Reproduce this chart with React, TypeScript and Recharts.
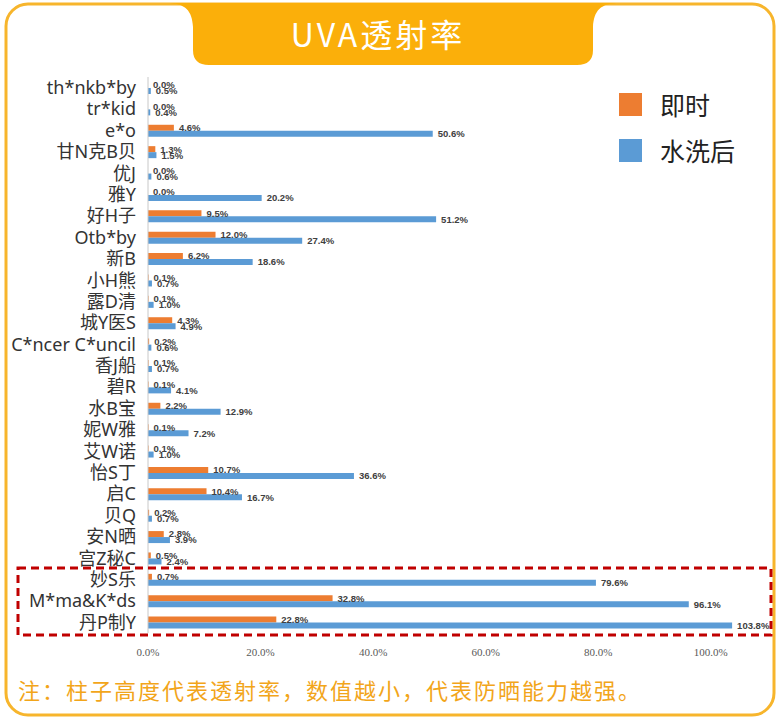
import { BarChart, Bar, XAxis, YAxis, Legend, LabelList } from 'recharts';

const brands = [
  'th*nkb*by', 'tr*kid', 'e*o', '甘N克B贝', '优J', '雅Y', '好H子', 'Otb*by', '新B', '小H熊',
  '露D清', '城Y医S', 'C*ncer C*uncil', '香J船', '碧R', '水B宝', '妮W雅', '艾W诺', '怡S丁', '启C',
  '贝Q', '安N晒', '宫Z秘C', '妙S乐', 'M*ma&K*ds', '丹P制Y',
];
const instant = [0.0, 0.0, 4.6, 1.3, 0.0, 0.0, 9.5, 12.0, 6.2, 0.1, 0.1, 4.3, 0.2, 0.1, 0.1, 2.2, 0.1, 0.1, 10.7, 10.4, 0.2, 2.8, 0.5, 0.7, 32.8, 22.8];
const washed = [0.5, 0.4, 50.6, 1.5, 0.6, 20.2, 51.2, 27.4, 18.6, 0.7, 1.0, 4.9, 0.6, 0.7, 4.1, 12.9, 7.2, 1.0, 36.6, 16.7, 0.7, 3.9, 2.4, 79.6, 96.1, 103.8];
const xTicks = [0, 20, 40, 60, 80, 100];

const ORANGE = '#ED7D31';
const BLUE = '#5B9BD5';
const GOLD = '#F7B52C';
const SANS = "'Noto Sans', 'Noto Sans CJK SC', sans-serif";

const fmt = (v: any) => `${Number(v).toFixed(1)}%`;
// zero values still need a (invisible) rect so their "0.0%" label is drawn
const zeroSize = (v: any) => (Number(v) === 0 ? 0.01 : 0);

const labelStyle = { fontSize: 9.5, fontWeight: 'bold', fill: '#404040', fontFamily: "'Liberation Sans', sans-serif" };

function LegendBox() {
  const items = [
    { name: '即时', color: ORANGE },
    { name: '水洗后', color: BLUE },
  ];
  return (
    <div>
      {items.map(it => (
        <div key={it.name} style={{ display: 'flex', alignItems: 'center', height: 24, marginBottom: 22 }}>
          <span style={{ width: 23, height: 23, background: it.color, display: 'inline-block', marginRight: 18 }} />
          <span style={{ fontSize: 25, color: '#222', fontFamily: "'Noto Sans CJK SC', sans-serif" }}>{it.name}</span>
        </div>
      ))}
    </div>
  );
}

export default function App() {
  const data = brands.map((name, i) => ({ name, instant: instant[i], washed: washed[i] }));

  return (
    <div style={{ position: 'absolute', left: 0, top: 0, width: 780, height: 723, background: '#fff', fontFamily: SANS }}>
      <svg width={780} height={723} style={{ position: 'absolute', left: 0, top: 0 }}>
        <rect x={6} y={4} width={768} height={711} rx={22} fill="#fff" stroke={GOLD} strokeWidth={3} />
        <path
          d="M166 3 C186 3 192 11 193 27 L193 50 Q193 65 209 65 L577 65 Q593 65 593 50 L593 27 C594 11 600 3 620 3 Z"
          fill="#FBAF0A"
        />
        <text x={378} y={47} textAnchor="middle" fill="#fff" fontSize={32} letterSpacing={3}
          fontFamily="'Noto Sans CJK SC', sans-serif">
          UVA透射率
        </text>
      </svg>

      <div style={{ position: 'absolute', left: 0, top: 0 }}>
        <BarChart
          width={780}
          height={723}
          data={data}
          layout="vertical"
          margin={{ top: 77, right: 13, bottom: 60, left: 0 }}
          barSize={6}
          barGap={0}
        >
          <XAxis
            type="number"
            domain={[0, 110]}
            ticks={xTicks}
            tickFormatter={fmt}
            axisLine={false}
            tickLine={false}
            tickMargin={9}
            height={30}
            tick={{ fontSize: 11, fill: '#595959', fontFamily: "'Liberation Serif', serif" }}
          />
          <YAxis
            type="category"
            dataKey="name"
            width={148}
            interval={0}
            axisLine={{ stroke: '#c8c8c8' }}
            tickLine={false}
            tickMargin={6}
            tick={{ fontSize: 18, fill: '#333', fontFamily: SANS }}
          />
          <Legend
            layout="vertical"
            align="center"
            verticalAlign="middle"
            wrapperStyle={{ left: 619, top: 92, width: 'auto' }}
            content={() => <LegendBox />}
          />
          <Bar dataKey="instant" name="即时" fill={ORANGE} minPointSize={zeroSize} isAnimationActive={false}>
            <LabelList dataKey="instant" position="right" offset={5} formatter={fmt} style={labelStyle} />
          </Bar>
          <Bar dataKey="washed" name="水洗后" fill={BLUE} isAnimationActive={false}>
            <LabelList dataKey="washed" position="right" offset={5} formatter={fmt} style={labelStyle} />
          </Bar>
        </BarChart>
      </div>

      <svg width={780} height={723} style={{ position: 'absolute', left: 0, top: 0, pointerEvents: 'none' }}>
        <rect x={18} y={568} width={753} height={67} fill="none" stroke="#C00000" strokeWidth={3} strokeDasharray="8 5" />
      </svg>

      <div style={{
        position: 'absolute', left: 18, top: 673, fontSize: 22, letterSpacing: 2, color: '#F2A51A',
        fontFamily: "'Noto Sans CJK SC', sans-serif", whiteSpace: 'nowrap',
      }}>
        注：柱子高度代表透射率，数值越小，代表防晒能力越强。
      </div>
    </div>
  );
}
